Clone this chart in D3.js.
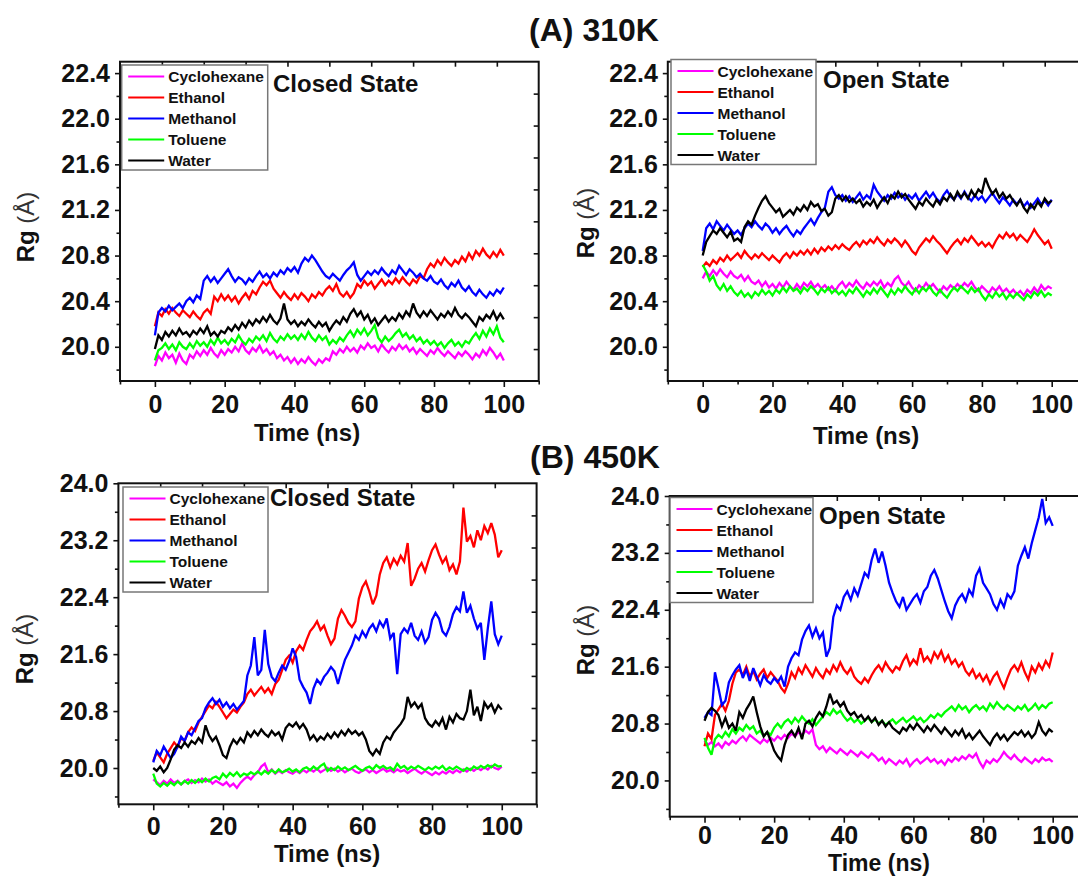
<!DOCTYPE html>
<html>
<head>
<meta charset="utf-8">
<script src="https://cdn.jsdelivr.net/npm/d3@7"></script>
<style>
  body { margin: 0; background: #fff; }
  svg { display: block; }
  text { font-family: "Liberation Sans", Arial, Helvetica, sans-serif; }
</style>
</head>
<body>
<svg id="chart" width="1078" height="876"></svg>
<script>
// Simulation time axis (ns), one frame per ns
const timeNs = d3.range(0, 101, 1);

const solvents = ["Cyclohexane", "Ethanol", "Methanol", "Toluene", "Water"];
const solventColors = ["#ff00ff", "#ff0000", "#0000ff", "#00ff00", "#000000"];

const xMajorTicks = [0, 20, 40, 60, 80, 100];
const xMinorTicks = [-10, 10, 30, 50, 70, 90, 110];
const yMajor310 = [20.0, 20.4, 20.8, 21.2, 21.6, 22.0, 22.4];
const yMinor310 = [19.8, 20.2, 20.6, 21.0, 21.4, 21.8, 22.2];
const yMajor450 = [20.0, 20.8, 21.6, 22.4, 23.2, 24.0];
const yMinor450 = [19.6, 20.4, 21.2, 22.0, 22.8, 23.6];

// ---- Rg (Å), 310 K, closed state ----
const rg310ClosedCyclohexane = [
  19.83,19.92,19.88,19.95,19.90,19.93,19.86,19.94,19.88,19.85,
  19.93,19.90,19.96,19.92,19.97,19.93,19.99,19.94,19.91,19.97,
  19.93,19.98,19.95,20.00,19.96,20.03,19.97,19.94,19.99,19.96,
  20.01,19.95,19.98,19.93,19.96,19.90,19.93,19.88,19.91,19.86,
  19.90,19.85,19.89,19.86,19.91,19.87,19.84,19.89,19.86,19.90,
  19.88,19.96,19.93,19.98,19.95,20.00,19.96,19.99,19.95,20.01,
  19.98,20.03,19.99,20.01,19.96,20.02,19.98,19.95,20.00,19.97,
  20.02,19.98,20.01,19.96,19.99,19.94,19.98,19.95,19.92,19.97,
  19.94,19.99,19.95,19.92,19.96,19.93,19.90,19.95,19.92,19.96,
  19.93,19.89,19.94,19.91,19.97,19.93,19.99,19.95,19.90,19.94,
  19.88];
const rg310ClosedEthanol = [
  20.18,20.30,20.27,20.33,20.29,20.34,20.30,20.27,20.32,20.29,
  20.26,20.31,20.27,20.24,20.30,20.33,20.29,20.44,20.40,20.46,
  20.41,20.45,20.40,20.44,20.38,20.43,20.47,20.42,20.49,20.46,
  20.52,20.57,20.54,20.58,20.51,20.47,20.43,20.48,20.44,20.41,
  20.46,20.42,20.47,20.44,20.40,20.46,20.43,20.48,20.45,20.50,
  20.53,20.49,20.55,20.47,20.44,20.48,20.43,20.47,20.55,20.52,
  20.58,20.54,20.57,20.51,20.55,20.59,20.54,20.58,20.55,20.60,
  20.56,20.61,20.57,20.54,20.59,20.56,20.62,20.60,20.68,20.73,
  20.70,20.76,20.72,20.78,20.74,20.71,20.76,20.73,20.79,20.75,
  20.82,20.77,20.84,20.80,20.86,20.81,20.78,20.83,20.79,20.85,
  20.80];
const rg310ClosedMethanol = [
  20.10,20.30,20.34,20.31,20.36,20.32,20.35,20.38,20.34,20.40,
  20.43,20.39,20.45,20.42,20.58,20.62,20.57,20.61,20.56,20.60,
  20.64,20.68,20.62,20.57,20.61,20.59,20.55,20.60,20.57,20.62,
  20.66,20.61,20.64,20.60,20.65,20.62,20.67,20.64,20.69,20.66,
  20.70,20.65,20.73,20.78,20.75,20.80,20.76,20.71,20.66,20.62,
  20.60,20.64,20.61,20.58,20.63,20.67,20.70,20.74,20.63,20.58,
  20.62,20.66,20.63,20.67,20.64,20.69,20.65,20.62,20.67,20.64,
  20.71,20.67,20.63,20.68,20.65,20.61,20.64,20.60,20.58,20.62,
  20.57,20.55,20.59,20.54,20.51,20.56,20.53,20.58,20.52,20.49,
  20.53,20.48,20.45,20.50,20.46,20.43,20.48,20.45,20.50,20.47,
  20.52];
const rg310ClosedToluene = [
  19.88,19.97,19.99,20.03,19.98,20.02,19.97,20.04,20.00,19.98,
  20.03,19.99,20.05,20.01,20.04,20.00,20.06,20.02,20.08,20.03,
  20.06,20.02,20.07,20.04,20.10,20.05,20.02,20.07,20.04,20.09,
  20.06,20.10,20.05,20.12,20.07,20.04,20.09,20.06,20.11,20.07,
  20.10,20.06,20.11,20.07,20.13,20.08,20.05,20.10,20.06,20.09,
  20.02,20.06,20.03,20.08,20.05,20.10,20.14,20.09,20.15,20.11,
  20.16,20.10,20.14,20.19,20.08,20.04,20.09,20.05,20.08,20.12,
  20.15,20.09,20.12,20.07,20.10,20.05,20.08,20.03,20.06,20.02,
  20.05,20.01,20.04,19.99,20.03,20.06,20.01,20.04,20.00,20.05,
  20.03,20.08,20.12,20.07,20.14,20.09,20.16,20.11,20.18,20.08,
  20.04];
const rg310ClosedWater = [
  19.98,20.10,20.06,20.13,20.09,20.14,20.10,20.16,20.11,20.13,
  20.09,20.14,20.11,20.16,20.12,20.18,20.10,20.13,20.09,20.14,
  20.12,20.17,20.14,20.19,20.15,20.21,20.17,20.23,20.19,20.24,
  20.21,20.26,20.22,20.28,20.23,20.20,20.25,20.38,20.24,20.20,
  20.23,20.18,20.22,20.19,20.24,20.20,20.17,20.22,20.18,20.21,
  20.14,20.19,20.23,20.20,20.26,20.22,20.29,20.33,20.27,20.31,
  20.24,20.28,20.21,20.25,20.19,20.23,20.27,20.22,20.26,20.23,
  20.29,20.25,20.31,20.27,20.38,20.30,20.26,20.31,20.27,20.32,
  20.28,20.24,20.29,20.26,20.31,20.27,20.34,20.28,20.25,20.29,
  20.26,20.22,20.18,20.26,20.23,20.28,20.25,20.31,20.24,20.29,
  20.24];

// ---- Rg (Å), 310 K, open state ----
const rg310OpenCyclohexane = [
  20.60,20.66,20.62,20.67,20.63,20.68,20.64,20.61,20.66,20.62,
  20.60,20.63,20.58,20.62,20.57,20.55,20.58,20.53,20.57,20.52,
  20.55,20.51,20.56,20.52,20.57,20.53,20.50,20.55,20.51,20.56,
  20.53,20.57,20.52,20.55,20.51,20.54,20.50,20.53,20.49,20.54,
  20.57,20.52,20.56,20.53,20.58,20.54,20.51,20.56,20.53,20.57,
  20.54,20.58,20.52,20.56,20.53,20.59,20.62,20.56,20.53,20.57,
  20.52,20.49,20.54,20.51,20.56,20.52,20.55,20.51,20.48,20.53,
  20.50,20.54,20.51,20.55,20.52,20.56,20.53,20.57,20.52,20.49,
  20.53,20.50,20.47,20.52,20.49,20.53,20.48,20.51,20.47,20.50,
  20.46,20.49,20.45,20.50,20.47,20.52,20.48,20.54,20.50,20.53,
  20.51];
const rg310OpenEthanol = [
  20.70,20.74,20.71,20.76,20.73,20.78,20.75,20.80,20.76,20.79,
  20.82,20.78,20.84,20.80,20.77,20.81,20.78,20.82,20.79,20.76,
  20.80,20.77,20.74,20.79,20.82,20.78,20.83,20.80,20.84,20.81,
  20.85,20.81,20.86,20.82,20.87,20.84,20.88,20.85,20.89,20.86,
  20.90,20.87,20.85,20.89,20.92,20.88,20.93,20.90,20.94,20.91,
  20.96,20.92,20.89,20.94,20.91,20.95,20.92,20.88,20.93,20.89,
  20.84,20.81,20.87,20.91,20.95,20.92,20.97,20.93,20.90,20.86,
  20.82,20.87,20.91,20.94,20.90,20.95,20.92,20.97,20.93,20.89,
  20.92,20.88,20.91,20.87,20.93,20.98,20.95,21.00,20.96,20.99,
  20.94,20.98,20.95,20.92,20.97,21.03,20.98,20.94,20.90,20.93,
  20.86];
const rg310OpenMethanol = [
  20.84,21.04,21.08,21.03,21.10,21.06,21.02,21.07,21.03,20.99,
  21.02,20.98,21.04,21.08,21.05,21.10,21.06,21.03,21.08,21.05,
  21.00,21.04,20.99,21.03,21.06,21.01,20.97,21.02,20.99,21.04,
  21.08,21.12,21.07,21.13,21.18,21.22,21.36,21.40,21.33,21.30,
  21.33,21.28,21.32,21.27,21.31,21.35,21.29,21.33,21.30,21.42,
  21.36,21.32,21.28,21.33,21.30,21.35,21.31,21.34,21.29,21.33,
  21.30,21.34,21.28,21.32,21.36,21.31,21.35,21.30,21.27,21.33,
  21.37,21.32,21.29,21.34,21.30,21.36,21.31,21.28,21.33,21.29,
  21.32,21.27,21.31,21.35,21.30,21.26,21.31,21.28,21.24,21.29,
  21.25,21.29,21.23,21.27,21.22,21.26,21.30,21.25,21.28,21.24,
  21.29];
const rg310OpenToluene = [
  20.72,20.66,20.58,20.62,20.54,20.50,20.55,20.49,20.53,20.48,
  20.45,20.49,20.44,20.47,20.43,20.48,20.45,20.50,20.46,20.49,
  20.45,20.50,20.47,20.52,20.48,20.53,20.49,20.51,20.47,20.52,
  20.49,20.53,20.50,20.46,20.51,20.48,20.52,20.47,20.50,20.46,
  20.49,20.45,20.50,20.47,20.52,20.48,20.44,20.49,20.46,20.51,
  20.47,20.52,20.48,20.44,20.50,20.46,20.51,20.48,20.53,20.49,
  20.46,20.51,20.47,20.52,20.49,20.53,20.48,20.45,20.50,20.46,
  20.43,20.48,20.52,20.49,20.53,20.50,20.47,20.52,20.48,20.51,
  20.45,20.41,20.46,20.43,20.48,20.44,20.47,20.42,20.46,20.43,
  20.47,20.44,20.41,20.46,20.43,20.48,20.45,20.49,20.44,20.47,
  20.45];
const rg310OpenWater = [
  20.80,20.92,20.97,21.02,20.99,21.04,21.00,20.96,21.01,20.93,
  20.95,20.92,21.05,21.10,21.07,21.15,21.22,21.28,21.32,21.26,
  21.22,21.18,21.21,21.14,21.17,21.20,21.16,21.22,21.19,21.24,
  21.20,21.27,21.23,21.25,21.19,21.21,21.15,21.18,21.30,21.33,
  21.28,21.32,21.27,21.30,21.26,21.29,21.23,21.27,21.24,21.29,
  21.22,21.27,21.31,21.26,21.33,21.30,21.36,21.31,21.34,21.29,
  21.25,21.21,21.27,21.24,21.30,21.26,21.23,21.29,21.25,21.31,
  21.28,21.34,21.29,21.36,21.31,21.35,21.30,21.37,21.32,21.38,
  21.35,21.48,21.40,21.34,21.38,21.31,21.35,21.30,21.33,21.28,
  21.24,21.29,21.22,21.18,21.25,21.21,21.27,21.23,21.30,21.26,
  21.28];

// ---- Rg (Å), 450 K, closed state ----
const rg450ClosedCyclohexane = [
  19.84,19.80,19.76,19.82,19.78,19.84,19.79,19.82,19.77,19.81,
  19.84,19.79,19.83,19.80,19.85,19.81,19.84,19.78,19.82,19.79,
  19.76,19.80,19.74,19.78,19.72,19.79,19.84,19.88,19.84,19.90,
  19.94,20.02,20.06,19.94,19.98,19.92,19.96,19.93,19.97,19.94,
  19.92,19.96,19.93,19.97,19.94,19.98,19.95,19.99,19.94,19.97,
  20.00,19.96,19.99,19.95,19.98,19.94,19.97,19.99,19.95,19.93,
  19.96,19.98,19.94,19.97,19.93,19.96,19.99,19.95,19.97,19.94,
  19.98,19.95,19.97,19.93,19.96,19.99,19.95,19.92,19.96,19.93,
  19.90,19.94,19.91,19.95,19.92,19.96,19.93,19.97,19.94,19.98,
  19.95,19.99,19.96,20.00,19.97,20.01,19.98,20.03,20.00,19.98,
  20.02];
const rg450ClosedEthanol = [
  20.10,20.22,20.15,20.08,20.20,20.28,20.36,20.30,20.42,20.38,
  20.50,20.57,20.52,20.64,20.72,20.80,20.88,20.84,20.93,20.86,
  20.78,20.70,20.76,20.82,20.78,20.86,20.92,21.04,21.10,21.02,
  21.08,21.14,21.06,21.12,21.04,21.18,21.24,21.38,21.52,21.58,
  21.48,21.64,21.72,21.66,21.80,21.92,21.98,22.06,21.94,22.00,
  21.86,21.74,21.82,22.10,22.22,22.14,22.04,21.98,22.06,22.38,
  22.54,22.62,22.48,22.30,22.42,22.72,22.88,22.96,22.82,22.94,
  22.86,22.98,22.90,23.16,22.56,22.66,22.80,22.88,22.76,22.92,
  23.06,23.14,23.00,22.88,22.96,22.78,22.86,22.72,22.90,23.66,
  23.18,23.26,23.10,23.34,23.20,23.40,23.30,23.44,23.28,22.96,
  23.06];
const rg450ClosedMethanol = [
  20.08,20.24,20.18,20.30,20.22,20.14,20.20,20.30,20.44,20.38,
  20.50,20.46,20.56,20.66,20.70,20.84,20.92,20.98,20.90,20.96,
  20.86,20.92,20.84,20.90,20.82,20.88,20.94,21.30,21.44,21.84,
  21.30,21.38,21.94,21.46,21.28,21.22,21.34,21.44,21.38,21.50,
  21.68,21.56,21.24,21.14,21.06,20.90,21.12,21.24,21.18,21.28,
  21.34,21.42,21.36,21.18,21.36,21.52,21.62,21.72,21.86,21.80,
  21.92,21.84,21.96,22.02,21.92,22.06,21.98,22.10,21.82,21.90,
  21.32,21.88,21.96,21.90,22.04,21.86,21.80,21.92,21.76,21.84,
  22.08,22.18,22.10,21.92,21.86,21.98,22.16,22.26,22.20,22.48,
  22.18,22.28,22.10,21.96,22.04,21.52,21.96,22.34,21.88,21.74,
  21.86];
const rg450ClosedToluene = [
  19.92,19.78,19.74,19.79,19.75,19.80,19.76,19.81,19.77,19.82,
  19.78,19.83,19.79,19.84,19.80,19.85,19.81,19.86,19.88,19.84,
  19.92,19.87,19.93,19.89,19.94,19.88,19.92,19.90,19.94,19.91,
  19.95,19.91,19.96,19.92,19.97,19.93,19.98,19.94,19.96,19.99,
  19.95,19.98,19.94,19.99,20.01,19.97,20.02,19.98,20.03,20.06,
  19.96,20.00,19.97,20.02,19.98,20.01,19.97,20.00,20.03,19.99,
  19.96,20.00,20.02,19.98,20.04,20.00,20.03,19.99,20.01,19.97,
  20.06,20.00,20.03,19.98,20.02,19.99,20.03,20.00,19.97,20.01,
  19.98,20.02,19.99,20.03,19.97,20.01,19.98,20.02,19.99,19.96,
  20.00,19.97,20.02,19.99,20.03,20.00,20.04,20.01,20.05,20.02,
  20.03];
const rg450ClosedWater = [
  20.00,19.96,20.02,19.94,20.00,20.12,20.26,20.32,20.28,20.36,
  20.30,20.38,20.34,20.42,20.36,20.60,20.46,20.38,20.44,20.32,
  20.18,20.14,20.30,20.40,20.34,20.42,20.36,20.50,20.44,20.52,
  20.46,20.54,20.48,20.44,20.52,20.46,20.50,20.40,20.56,20.62,
  20.58,20.64,20.56,20.62,20.54,20.40,20.46,20.38,20.44,20.40,
  20.48,20.42,20.50,20.44,20.52,20.46,20.54,20.48,20.52,20.46,
  20.50,20.40,20.24,20.18,20.26,20.20,20.36,20.44,20.40,20.50,
  20.56,20.62,20.70,21.00,20.86,20.92,20.84,20.90,20.70,20.62,
  20.58,20.66,20.60,20.70,20.54,20.72,20.64,20.76,20.70,20.68,
  20.80,21.10,20.74,20.86,20.66,20.92,20.84,20.90,20.78,20.88,
  20.82];

// ---- Rg (Å), 450 K, open state ----
const rg450OpenCyclohexane = [
  20.56,20.50,20.54,20.48,20.52,20.46,20.54,20.50,20.56,20.52,
  20.58,20.62,20.56,20.64,20.60,20.56,20.52,20.58,20.54,20.60,
  20.56,20.62,20.58,20.64,20.60,20.66,20.62,20.68,20.64,20.70,
  20.66,20.72,20.50,20.44,20.48,20.40,20.46,20.42,20.38,20.44,
  20.40,20.36,20.42,20.38,20.34,20.40,20.36,20.32,20.38,20.34,
  20.28,20.32,20.24,20.30,20.26,20.22,20.28,20.24,20.30,20.20,
  20.26,20.30,20.24,20.28,20.32,20.26,20.30,20.24,20.28,20.22,
  20.30,20.26,20.32,20.28,20.34,20.30,20.36,20.32,20.38,20.26,
  20.18,20.28,20.24,20.30,20.26,20.32,20.40,20.34,20.30,20.36,
  20.30,20.26,20.32,20.28,20.24,20.30,20.26,20.32,20.28,20.30,
  20.26];
const rg450OpenEthanol = [
  20.48,20.66,20.58,20.92,21.00,21.08,20.98,21.12,21.36,21.52,
  21.56,21.48,21.60,21.46,21.54,21.42,21.50,21.56,21.44,21.52,
  21.46,21.40,21.30,21.24,21.36,21.52,21.44,21.58,21.50,21.62,
  21.54,21.46,21.58,21.50,21.44,21.56,21.50,21.62,21.54,21.66,
  21.56,21.50,21.58,21.46,21.40,21.36,21.44,21.38,21.48,21.56,
  21.62,21.54,21.66,21.58,21.52,21.60,21.56,21.68,21.76,21.62,
  21.70,21.64,21.86,21.68,21.74,21.66,21.80,21.72,21.82,21.68,
  21.76,21.64,21.70,21.60,21.66,21.54,21.48,21.56,21.44,21.50,
  21.40,21.48,21.36,21.46,21.52,21.40,21.30,21.44,21.56,21.62,
  21.54,21.66,21.52,21.42,21.60,21.52,21.64,21.56,21.68,21.60,
  21.80];
const rg450OpenMethanol = [
  20.88,20.96,20.92,21.52,21.30,21.06,21.12,21.38,21.48,21.56,
  21.62,21.44,21.56,21.40,21.58,21.46,21.34,21.48,21.40,21.36,
  21.44,21.38,21.46,21.32,21.60,21.72,21.80,21.76,21.98,22.10,
  22.18,22.02,22.14,22.00,22.08,21.74,21.86,22.30,22.46,22.40,
  22.58,22.66,22.54,22.70,22.60,22.76,22.92,22.86,23.10,23.26,
  23.06,23.22,23.02,22.78,22.64,22.52,22.44,22.58,22.40,22.48,
  22.56,22.62,22.50,22.66,22.72,22.88,22.96,22.84,22.68,22.52,
  22.38,22.28,22.46,22.56,22.62,22.52,22.68,22.60,22.88,22.98,
  22.78,22.70,22.62,22.48,22.40,22.54,22.44,22.62,22.56,22.66,
  23.02,23.16,23.28,23.12,23.34,23.52,23.70,23.96,23.62,23.70,
  23.58];
const rg450OpenToluene = [
  20.60,20.46,20.36,20.58,20.64,20.60,20.68,20.62,20.72,20.66,
  20.74,20.70,20.78,20.72,20.76,20.66,20.70,20.62,20.68,20.64,
  20.74,20.80,20.74,20.82,20.86,20.80,20.88,20.82,20.90,20.84,
  20.80,20.86,20.78,20.84,20.90,20.96,20.92,21.00,20.94,20.98,
  20.90,20.84,20.88,20.82,20.86,20.80,20.84,20.88,20.82,20.86,
  20.80,20.84,20.78,20.82,20.86,20.80,20.84,20.88,20.82,20.86,
  20.90,20.84,20.88,20.82,20.86,20.92,20.88,20.94,20.90,20.96,
  21.00,21.04,20.98,21.06,21.00,21.04,20.96,21.02,21.06,21.00,
  21.04,20.98,21.08,21.02,21.10,21.04,21.00,21.06,21.02,20.98,
  21.04,21.00,21.06,20.98,21.02,21.08,21.00,21.06,21.02,21.08,
  21.10];
const rg450OpenWater = [
  20.84,20.96,21.02,20.98,20.92,20.76,20.88,20.74,20.80,20.70,
  20.96,20.88,21.00,21.08,21.18,20.96,20.76,20.62,20.68,20.56,
  20.42,20.34,20.28,20.50,20.64,20.70,20.62,20.74,20.58,20.80,
  20.84,20.76,20.88,20.96,20.90,21.04,21.22,21.08,21.12,21.04,
  21.10,20.98,20.92,20.96,20.88,20.92,20.84,20.90,20.82,20.88,
  20.78,20.84,20.76,20.82,20.74,20.70,20.66,20.74,20.70,20.78,
  20.72,20.80,20.74,20.68,20.76,20.70,20.78,20.72,20.66,20.74,
  20.68,20.62,20.70,20.64,20.72,20.60,20.66,20.58,20.64,20.70,
  20.62,20.56,20.50,20.60,20.66,20.58,20.64,20.56,20.62,20.68,
  20.64,20.70,20.62,20.68,20.60,20.66,20.82,20.70,20.64,20.72,
  20.68];

// Panel layout: frame box in px, y range, text anchors
const panels = [
  {
    id: "a-closed", state: "Closed State",
    series: [rg310ClosedCyclohexane, rg310ClosedEthanol, rg310ClosedMethanol, rg310ClosedToluene, rg310ClosedWater],
    yDomain: [19.7, 22.5], yMajor: yMajor310, yMinor: yMinor310,
    box: { left: 120, right: 538.7, top: 61.7, bottom: 381 },
    legend: { x: 121.7, y: 65, w: 146 },
    stateAt: [273, 92], xTitleAt: [307, 440.5, 24], yTitleAt: [34, 227],
    xLabelPad: 8
  },
  {
    id: "a-open", state: "Open State",
    series: [rg310OpenCyclohexane, rg310OpenEthanol, rg310OpenMethanol, rg310OpenToluene, rg310OpenWater],
    yDomain: [19.7, 22.5], yMajor: yMajor310, yMinor: yMinor310,
    box: { left: 667.8, right: 1086.6, top: 61.7, bottom: 381 },
    legend: { x: 671, y: 59.5, w: 145 },
    stateAt: [823, 88], xTitleAt: [866, 443.5, 24], yTitleAt: [594, 223],
    xLabelPad: 8
  },
  {
    id: "b-closed", state: "Closed State",
    series: [rg450ClosedCyclohexane, rg450ClosedEthanol, rg450ClosedMethanol, rg450ClosedToluene, rg450ClosedWater],
    yDomain: [19.49, 24.0], yMajor: yMajor450, yMinor: yMinor450,
    box: { left: 118.4, right: 536.6, top: 483.3, bottom: 804.3 },
    legend: { x: 123, y: 487, w: 145 },
    stateAt: [270, 505.5], xTitleAt: [327, 862, 24], yTitleAt: [33, 649],
    xLabelPad: 7
  },
  {
    id: "b-open", state: "Open State",
    series: [rg450OpenCyclohexane, rg450OpenEthanol, rg450OpenMethanol, rg450OpenToluene, rg450OpenWater],
    yDomain: [19.49, 24.0], yMajor: yMajor450, yMinor: yMinor450,
    box: { left: 669.7, right: 1087.5, top: 496, bottom: 816.7 },
    legend: { x: 670, y: 497.5, w: 143 },
    stateAt: [819, 524], xTitleAt: [879, 870.8, 23], yTitleAt: [594, 640],
    xLabelPad: 4
  }
];

const svg = d3.select("#chart");
svg.append("rect").attr("width", 1078).attr("height", 876).attr("fill", "#fff");
const defs = svg.append("defs");

function styleAxis(g, fontSize) {
  g.select(".domain").remove();
  g.selectAll(".tick line").attr("stroke", "#111").attr("stroke-width", 1.6);
  g.selectAll(".tick text")
    .attr("fill", "#111")
    .style("font-size", fontSize + "px")
    .style("font-weight", "bold")
    .style("font-family", '"Liberation Sans", Arial, sans-serif');
}

function drawPanel(p) {
  const b = p.box;
  const x = d3.scaleLinear().domain([-10, 110]).range([b.left, b.right]);
  const y = d3.scaleLinear().domain(p.yDomain).range([b.bottom, b.top]);
  const g = svg.append("g").attr("class", "panel " + p.id);

  defs.append("clipPath").attr("id", "clip-" + p.id)
    .append("rect")
    .attr("x", b.left).attr("y", b.top)
    .attr("width", b.right - b.left).attr("height", b.bottom - b.top);

  // trajectories
  const line = d3.line()
    .x((d, i) => x(timeNs[i]))
    .y(d => y(d));
  g.append("g").attr("clip-path", "url(#clip-" + p.id + ")")
    .selectAll("path")
    .data(p.series)
    .join("path")
    .attr("d", line)
    .attr("fill", "none")
    .attr("stroke", (d, i) => solventColors[i])
    .attr("stroke-width", 2.3)
    .attr("stroke-linejoin", "miter")
    .attr("stroke-miterlimit", 3);

  // bottom axis: labelled majors + minors
  const xMaj = g.append("g").attr("transform", `translate(0,${b.bottom})`)
    .call(d3.axisBottom(x).tickValues(xMajorTicks).tickSize(6).tickPadding(p.xLabelPad).tickFormat(d3.format("d")));
  styleAxis(xMaj, 25);
  const xMin = g.append("g").attr("transform", `translate(0,${b.bottom})`)
    .call(d3.axisBottom(x).tickValues(xMinorTicks).tickSize(3.5).tickFormat(""));
  styleAxis(xMin, 25);

  // left axis
  const yMaj = g.append("g").attr("transform", `translate(${b.left},0)`)
    .call(d3.axisLeft(y).tickValues(p.yMajor).tickSize(5).tickPadding(5).tickFormat(d3.format(".1f")));
  styleAxis(yMaj, 25);
  const yMin = g.append("g").attr("transform", `translate(${b.left},0)`)
    .call(d3.axisLeft(y).tickValues(p.yMinor).tickSize(3.5).tickFormat(""));
  styleAxis(yMin, 25);

  // opposite axes: ten equal divisions, inward ticks
  const xTop = d3.scaleLinear().domain([0, 10]).range([b.left, b.right]);
  const topAxis = g.append("g").attr("transform", `translate(0,${b.top})`)
    .call(d3.axisTop(xTop).tickValues(d3.range(1, 10)).tickSize(-5).tickFormat(""));
  styleAxis(topAxis, 10);
  const yRight = d3.scaleLinear().domain([0, 10]).range([b.top, b.bottom]);
  const rightAxis = g.append("g").attr("transform", `translate(${b.right},0)`)
    .call(d3.axisRight(yRight).tickValues(d3.range(1, 10)).tickSize(-5).tickFormat(""));
  styleAxis(rightAxis, 10);

  // frame
  g.append("rect")
    .attr("x", b.left).attr("y", b.top)
    .attr("width", b.right - b.left).attr("height", b.bottom - b.top)
    .attr("fill", "none").attr("stroke", "#111").attr("stroke-width", 2);

  // legend
  const L = p.legend;
  const lg = g.append("g").attr("transform", `translate(${L.x},${L.y})`);
  lg.append("rect").attr("width", L.w).attr("height", 105)
    .attr("fill", "#fff").attr("stroke", "#777").attr("stroke-width", 1.5);
  const items = lg.selectAll("g.item").data(solvents).join("g")
    .attr("class", "item")
    .attr("transform", (d, i) => `translate(0,${11.5 + i * 21})`);
  items.append("line").attr("x1", 6.5).attr("x2", 42.5)
    .attr("stroke", (d, i) => solventColors[i]).attr("stroke-width", 1.8);
  items.append("text").attr("x", 46.5).attr("dy", "0.36em")
    .style("font-size", "15.5px").style("font-weight", "bold").attr("fill", "#111")
    .text(d => d);

  // state label
  g.append("text").attr("x", p.stateAt[0]).attr("y", p.stateAt[1])
    .style("font-size", "24px").style("font-weight", "bold").attr("fill", "#111")
    .text(p.state);

  // axis titles
  g.append("text").attr("x", p.xTitleAt[0]).attr("y", p.xTitleAt[1])
    .attr("text-anchor", "middle")
    .style("font-size", p.xTitleAt[2] + "px").style("font-weight", "bold").attr("fill", "#111")
    .text("Time (ns)");
  const yt = g.append("text")
    .attr("transform", `translate(${p.yTitleAt[0]},${p.yTitleAt[1]}) rotate(-90)`)
    .attr("text-anchor", "middle")
    .style("font-size", "24px").attr("fill", "#111");
  yt.append("tspan").style("font-weight", "bold").text("Rg ");
  yt.append("tspan").style("font-weight", "normal").attr("fill", "#333").text("(Å)");
}

panels.forEach(drawPanel);

// temperature headings
svg.append("text").attr("x", 594).attr("y", 41).attr("text-anchor", "middle")
  .style("font-size", "32px").style("font-weight", "bold").attr("fill", "#111")
  .text("(A) 310K");
svg.append("text").attr("x", 595).attr("y", 468).attr("text-anchor", "middle")
  .style("font-size", "32px").style("font-weight", "bold").attr("fill", "#111")
  .text("(B) 450K");
</script>
</body>
</html>
